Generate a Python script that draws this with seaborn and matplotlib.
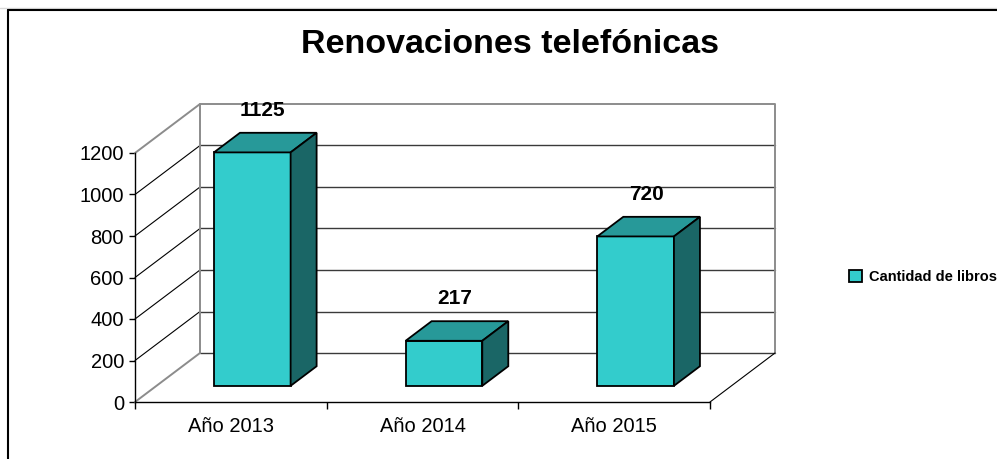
import matplotlib
matplotlib.use("Agg")
import matplotlib.pyplot as plt
import seaborn as sns
import pandas as pd
from matplotlib.patches import Polygon, Patch
from matplotlib.lines import Line2D

# data
years = ["Año 2013", "Año 2014", "Año 2015"]
books = [1125, 217, 720]
yticks = [0, 200, 400, 600, 800, 1000, 1200]

df = pd.DataFrame({"year": years, "books": books})

sns.set_style("white")
plt.rcParams["font.family"] = ["Liberation Sans", "DejaVu Sans"]
plt.rcParams["text.color"] = "black"
plt.rcParams["xtick.color"] = "black"
plt.rcParams["ytick.color"] = "black"
plt.rcParams["axes.labelcolor"] = "black"

W, H = 997, 459
fig = plt.figure(figsize=(W / 100, H / 100), dpi=100)
ax = fig.add_axes([135 / W, 57 / H, 575 / W, 249 / H])

# depth of the 3d box in data units (65px right, 49px up)
px_x = 575 / 3
px_y = 249 / 1200
DX, DY = 65 / px_x, 49 / px_y
f0, f1 = 0.33, 0.73  # bar front / back depth fraction

front = "#33CCCC"
top = "#279999"
side = "#1A6666"

sns.barplot(data=df, x="year", y="books", ax=ax, color=front, width=0.4,
            saturation=1, edgecolor="black", linewidth=1.3, zorder=5)

ax.set_xlim(-0.5, 2.5)
ax.set_ylim(0, 1200)

# back wall + left wall
for v in yticks[1:-1]:
    ax.plot([-0.5 + DX, 2.5 + DX], [v + DY, v + DY], color="#3a3a3a", lw=1, clip_on=False, zorder=1)
    ax.plot([-0.5, -0.5 + DX], [v, v + DY], color="black", lw=0.8, clip_on=False, zorder=1)
ax.plot([-0.5 + DX, 2.5 + DX], [DY, DY], color="#3a3a3a", lw=1, clip_on=False, zorder=1)
gray = "#8c8c8c"
ax.plot([-0.5, -0.5 + DX, 2.5 + DX, 2.5 + DX], [1200, 1200 + DY, 1200 + DY, DY],
        color=gray, lw=1.4, clip_on=False, zorder=1)
ax.plot([-0.5 + DX, -0.5 + DX], [DY, 1200 + DY], color=gray, lw=1.4, clip_on=False, zorder=1)
ax.plot([-0.5, -0.5 + DX], [0, DY], color=gray, lw=1.4, clip_on=False, zorder=1)
ax.plot([2.5, 2.5 + DX], [0, DY], color="black", lw=0.8, clip_on=False, zorder=1)

# shift bars back and add top / side faces
for p, v in zip(ax.patches, books):
    x0 = p.get_x() + f0 * DX
    y0 = f0 * DY
    w = p.get_width()
    p.set_x(x0)
    p.set_y(y0)
    ddx, ddy = (f1 - f0) * DX, (f1 - f0) * DY
    topf = Polygon([(x0, y0 + v), (x0 + w, y0 + v), (x0 + w + ddx, y0 + v + ddy), (x0 + ddx, y0 + v + ddy)],
                   closed=True, facecolor=top, edgecolor="black", lw=1.3, zorder=5, clip_on=False)
    sidef = Polygon([(x0 + w, y0), (x0 + w + ddx, y0 + ddy), (x0 + w + ddx, y0 + v + ddy), (x0 + w, y0 + v)],
                    closed=True, facecolor=side, edgecolor="black", lw=1.3, zorder=5, clip_on=False)
    ax.add_patch(topf)
    ax.add_patch(sidef)
    p.set_clip_on(False)

# value labels
for i, v in enumerate(books):
    ax.annotate(str(v), (i, v), xytext=(32, 53), textcoords="offset pixels",
                ha="center", va="baseline", fontsize=15, fontweight="bold")

sns.despine(ax=ax, top=True, right=True)
for s in ["left", "bottom"]:
    ax.spines[s].set_color("black")
    ax.spines[s].set_linewidth(1)
ax.set_yticks(yticks)
ax.set_xticks([0, 1, 2])
ax.set_xticklabels(years)
ax.set_xticks([-0.5, 0.5, 1.5, 2.5], minor=True)
ax.tick_params(axis="y", length=4, width=1, color="black", labelsize=14.5, pad=4, left=True)
ax.tick_params(axis="x", which="major", length=0, labelsize=14.5, pad=11)
ax.tick_params(axis="x", which="minor", length=5, width=1, color="black", bottom=True)
ax.set_xlabel("")
ax.set_ylabel("")
ax.grid(False)

fig.text(510 / W, 1 - 53 / H, "Renovaciones telefónicas", ha="center", va="baseline",
         fontsize=24.5, fontweight="bold")

fig.legend(handles=[Patch(facecolor=front, edgecolor="black", lw=1.3, label="Cantidad de libros")],
           loc="center left", bbox_to_anchor=(849 / W, 1 - 277 / H), frameon=False,
           handlelength=0.9, handleheight=0.9, handletextpad=0.5, borderpad=0, borderaxespad=0,
           prop={"weight": "bold", "size": 10.5})

# outer frame
fig.add_artist(Line2D([0, 1], [1 - 7.5 / H, 1 - 7.5 / H], color="#d8d8d8", lw=1))
fig.add_artist(Line2D([8 / W, 1], [1 - 9.5 / H, 1 - 9.5 / H], color="black", lw=1.5))
fig.add_artist(Line2D([8 / W, 8 / W], [0, 1 - 9.5 / H], color="black", lw=1.5))

fig.savefig("out.png", dpi=100, facecolor="white")
